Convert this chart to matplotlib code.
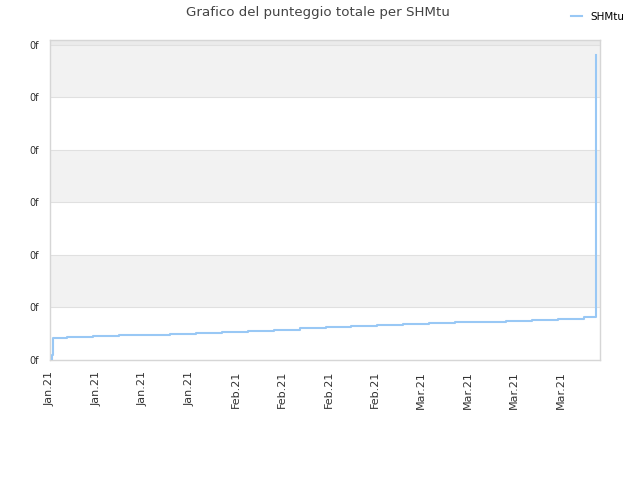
import matplotlib
matplotlib.use("Agg")
import matplotlib.pyplot as plt

# Data (x in tick-interval units, y in gridline units)
x_vals = [0.04, 0.05, 0.075, 0.366, 0.923, 1.480, 2.037, 2.594, 3.151, 3.708,
          4.265, 4.822, 5.379, 5.936, 6.493, 7.050, 7.607, 8.164, 8.721, 9.278,
          9.835, 10.392, 10.949, 11.506, 11.77]
y_vals = [0.00, 0.10, 0.41, 0.43, 0.45, 0.47, 0.48, 0.50, 0.52, 0.54,
          0.56, 0.58, 0.60, 0.62, 0.64, 0.66, 0.68, 0.70, 0.72, 0.73,
          0.75, 0.77, 0.79, 0.81, 5.81]
x_tick_labels = ["Jan.21", "Jan.21", "Jan.21", "Jan.21",
                 "Feb.21", "Feb.21", "Feb.21", "Feb.21",
                 "Mar.21", "Mar.21", "Mar.21", "Mar.21"]
y_tick_labels = ["0f", "0f", "0f", "0f", "0f", "0f", "0f"]
series_name = "SHMtu"
title = "Grafico del punteggio totale per SHMtu"

fig = plt.figure(figsize=(6.4, 4.8), dpi=100)
ax = fig.add_axes([50/640, 120/480, 550/640, 320/480])

ymax = 6.095
xmax = 11.85
ax.set_xlim(0, xmax)
ax.set_ylim(0, ymax)

# alternating bands
for i in range(6):
    if i % 2 == 1:
        ax.axhspan(i, i + 1, color="#F2F2F2", zorder=0, lw=0)
ax.axhspan(6, ymax, color="#EBEBEB", zorder=0, lw=0)
for i in range(1, 7):
    ax.axhline(i, color="#E0E0E0", lw=0.8, zorder=1)

ax.plot(x_vals, y_vals, drawstyle="steps-post", color="#99C8F5", lw=1.5,
        label=series_name, zorder=3)

ax.set_xticks(range(len(x_tick_labels)))
ax.set_xticklabels(x_tick_labels, rotation=90, fontsize=8, color="#333333")
ax.set_yticks(range(len(y_tick_labels)))
ax.set_yticklabels(y_tick_labels, fontsize=7, color="#333333")
ax.tick_params(axis="x", length=0, pad=8)
ax.tick_params(axis="y", length=0, pad=8)

for s in ax.spines.values():
    s.set_color("#D6D6D6")
    s.set_linewidth(1)

fig.text(0.496, 0.9875, title, ha="center", va="top", fontsize=9.6, color="#444444")
fig.legend(loc="upper right", bbox_to_anchor=(0.99, 0.995), frameon=False,
           fontsize=7.5, handlelength=1.0, handletextpad=0.8)

fig.savefig("out.png", dpi=100)
